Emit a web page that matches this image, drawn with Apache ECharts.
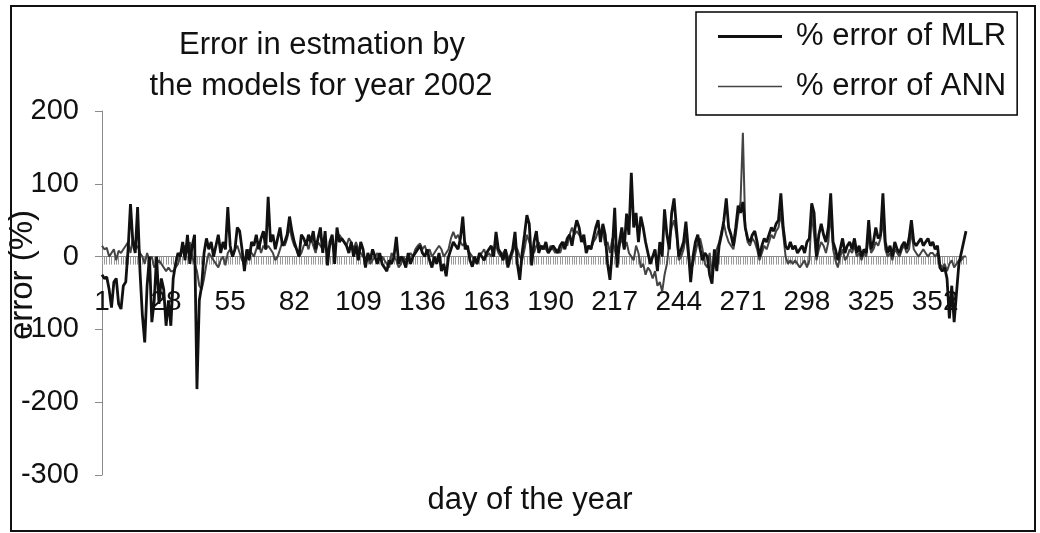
<!DOCTYPE html>
<html>
<head>
<meta charset="utf-8">
<script src="https://cdn.jsdelivr.net/npm/echarts@6/dist/echarts.min.js"></script>
<style>
html,body{margin:0;padding:0;background:#fff;}
#chart{width:1040px;height:533px;}
</style>
</head>
<body>
<div id="chart"></div>
<script>
// ---- data ----
var dayCount = 365;
var days = [];
for (var i = 1; i <= dayCount; i++) days.push(String(i));

var yTicks = [-300, -200, -100, 0, 100, 200];

var mlrError = [
  -25, -30, -28, -45, -70, -35, -30, -65, -72, -40,
  -35, 10, 72, 20, 5, 68, -20, -80, -118, -40,
  0, -90, -60, 0, -65, -30, -45, -95, -60, -95,
  -30, -10, 5, 0, 20, -5, 30, -10, 15, 30,
  -182, -60, -40, 5, 25, 10, 20, 0, 15, 30,
  5, 20, 10, 68, 15, 0, 10, 40, 35, 10,
  -20, 10, -5, 20, 15, 30, 10, 25, 35, 10,
  82, 20, 30, 10, 25, 40, 15, 20, 30, 55,
  35, 20, 10, 0, 30, 25, 15, 30, 20, 35,
  10, 25, 40, 5, 35, -12, 20, 30, -10, 40,
  20, 25, 20, 15, 5, 20, 0, 15, -5, 20,
  10, -15, 5, -5, 10, 0, -10, 5, -10, -15,
  -20, -5, -10, 0, 27, -10, 0, -5, -15, 5,
  -10, 0, 5, 10, 15, 5, 0, 10, -5, -15,
  0, -10, 5, -20, -10, -27, 0, 10, 20, 15,
  10, 25, 55, 10, 15, -5, -14, 0, -10, 5,
  0, -5, 5, 10, 15, 0, 34, 10, 5, -5,
  10, -15, 0, 10, 34, -10, -32, 5, 30, 57,
  45, -12, 20, 35, 5, 15, 10, 20, 5, 10,
  15, 10, 5, 15, 20, 10, 25, 30, 15, 35,
  50, 40, 20, 30, 5, 15, 10, 25, 40, 50,
  20, 45, 30, -10, -32, 10, 67, -15, 20, 40,
  10, 59, 30, 115, 40, 60, 20, 55, 40, 20,
  5, -10, 0, 10, -20, 20, 0, 65, 30, 10,
  60, 80, 40, 0, 10, 20, 48, 10, -35, 0,
  20, 30, 10, -5, 5, 0, -25, -37, 10, -20,
  15, 30, 50, 80, 40, 30, 15, 40, 70, 60,
  75, 40, 25, 20, 30, 35, 20, 0, 15, 25,
  20, 30, 40, 35, 45, 50, 87, 40, 14, 10,
  20, 10, 15, 5, 10, 15, 5, 20, 25, 73,
  60, 0, 30, 45, 30, 20, 40, 87, 20, 10,
  -5, 10, 25, 5, 15, 20, 10, 25, 5, 15,
  0, 10, 5, 50, 10, 20, 40, 25, 30, 87,
  20, 5, 15, 0, 20, 10, 5, 15, 20, 10,
  25, 50, 20, 15, 20, 25, 15, 20, 25, 15,
  20, 10, 15, -15, -20, -15, -30, -85, -40, -90,
  -50, -10, 5, 20, 35
];

var annError = [
  15, 10, 12, 0, 5, 10, -5, 8, 5, 10,
  15, 20, 5, 25, 10, 15, 5, 0, -10, 5,
  -5, 0, -15, -10, -5, -10, -15, -20, -15, -20,
  -20, -15, -10, 0, 10, 15, 5, 20, 0, -10,
  -20, -40, -45, -30, -10, 5, 0, -5, -10, -15,
  -5, 0, -12, 5, 10, 0, 10, 15, 5, -5,
  -10, 0, 10, 5, 0, 10, 20, 5, 15, 10,
  15, 10, 5, -5, 0, 10, 20, 15, 25, 40,
  25, 15, 10, 0, 5, 15, 20, 10, 25, 15,
  5, 20, 15, 10, 25, 0, 15, 20, 10, 25,
  30, 25, 20, 15, 25, 20, 10, 20, 10, 5,
  0, -5, 0, -10, -5, 0, 5, -5, 0, -5,
  -10, -15, 5, 0, -5, -15, -10, 0, -5, 0,
  5, 0, 10, 15, 18, 10, 15, 5, 10, 0,
  5, 10, 15, 10, 0, 5, 10, 25, 34, 25,
  30, 20, 15, 20, 10, 5, 0, -5, -10, 0,
  5, 10, 0, 5, 0, 10, 15, 5, 0, 5,
  10, 0, -5, 5, 15, 10, 0, -5, 10, 30,
  20, 10, 5, 15, 20, 10, 15, 10, 5, 15,
  10, 5, 10, 5, 15, 20, 15, 30, 40, 30,
  35, 30, 25, 20, 10, 15, 10, 20, 25, 35,
  30, 35, 15, 20, 5, 25, 10, -5, 15, 25,
  10, 20, 5, 0, -5, 15, 5, -15, -10, -25,
  -15, -20, -30, -20, -40, -35, -48, -25, -10, 20,
  40, 50, 30, -5, 0, 10, 30, 0, -20, -10,
  5, 20, 25, 10, -10, -15, 5, -25, -10, 10,
  20, 35, 45, 30, 20, 15, 10, 30, 55, 75,
  170, 40, 20, 15, 25, 20, 10, -5, 5, 15,
  10, 20, 30, 25, 35, 40, 60, 30, 0, -10,
  -5, -10, -5, -10, -15, -10, -5, -15, -5, 60,
  30, -5, 10, 20, 15, 5, 20, 60, 10, -5,
  -15, 0, 10, -5, 0, 10, 5, 15, 0, 5,
  -5, 5, 0, 30, 5, 10, 20, 15, 25, 50,
  10, 0, 5, -5, 10, 5, 0, 10, 15, 5,
  10, 35, 10, 5, 0, 5, 10, 5, 0, 5,
  5, 0, 5, -10, -15, -10, -20, -10, -5, -15,
  -10, -5, -5, 0, 0
];

// ---- chart ----
var FONT = "'Liberation Sans', Arial, sans-serif";
var chart = echarts.init(document.getElementById('chart'), null, {renderer: 'canvas'});
chart.setOption({
  animation: false,
  backgroundColor: '#ffffff',
  textStyle: {fontFamily: FONT, color: '#111'},
  grid: {left: 102, right: 74, top: 111, bottom: 58, containLabel: false},
  legend: {
    orient: 'vertical',
    left: 696, top: 12,
    padding: [9, 11, 13, 22],
    itemWidth: 64, itemHeight: 4, itemGap: 19,
    symbolKeepAspect: true,
    borderColor: '#000', borderWidth: 1.5,
    textStyle: {fontFamily: FONT, fontSize: 31, color: '#111', padding: [0, 0, 0, 9]},
    data: [
      {name: '% error of MLR', icon: 'path://M0,0h64v3h-64z', itemStyle: {color: '#111'}},
      {name: '% error of ANN', icon: 'path://M0,0h64v1.5h-64z', itemStyle: {color: '#444'}}
    ]
  },
  xAxis: {
    type: 'category',
    data: days,
    boundaryGap: false,
    axisLine: {onZero: true, lineStyle: {color: '#8a8a8a', width: 1}},
    axisTick: {show: true, interval: 0, length: 8, lineStyle: {color: '#9a9a9a', width: 1}},
    axisLabel: {interval: 26, margin: -187, fontSize: 28, color: '#111', fontFamily: FONT},
    splitLine: {show: false}
  },
  yAxis: {
    type: 'value',
    min: yTicks[0], max: yTicks[yTicks.length - 1], interval: 100,
    axisLine: {show: true, lineStyle: {color: '#8a8a8a', width: 1}},
    axisTick: {show: true, length: 7, lineStyle: {color: '#8a8a8a'}},
    axisLabel: {margin: 23, fontSize: 29, color: '#111', fontFamily: FONT},
    splitLine: {show: false}
  },
  series: [
    {
      name: '% error of MLR', type: 'line', data: mlrError,
      symbol: 'none', lineStyle: {color: '#111', width: 2.8}, itemStyle: {color: '#111'}, z: 3
    },
    {
      name: '% error of ANN', type: 'line', data: annError,
      symbol: 'none', lineStyle: {color: '#444', width: 2}, itemStyle: {color: '#444'}, z: 2
    }
  ],
  graphic: [
    {type: 'rect', shape: {x: 11, y: 6, width: 1024, height: 525}, style: {fill: 'none', stroke: '#111', lineWidth: 2}, z: 100, silent: true},
    {type: 'text', x: 322, y: 45, style: {text: 'Error in estmation by', fontSize: 31, fontFamily: FONT, fill: '#111', textAlign: 'center', textVerticalAlign: 'middle'}},
    {type: 'text', x: 321, y: 86, style: {text: 'the models for year 2002', fontSize: 31, fontFamily: FONT, fill: '#111', textAlign: 'center', textVerticalAlign: 'middle'}},
    {type: 'text', x: 530, y: 500, style: {text: 'day of the year', fontSize: 31, fontFamily: FONT, fill: '#111', textAlign: 'center', textVerticalAlign: 'middle'}},
    {type: 'text', x: 23, y: 275, rotation: Math.PI / 2, style: {text: 'error (%)', fontSize: 33, fontFamily: FONT, fill: '#111', textAlign: 'center', textVerticalAlign: 'middle'}}
  ]
});
</script>
</body>
</html>
